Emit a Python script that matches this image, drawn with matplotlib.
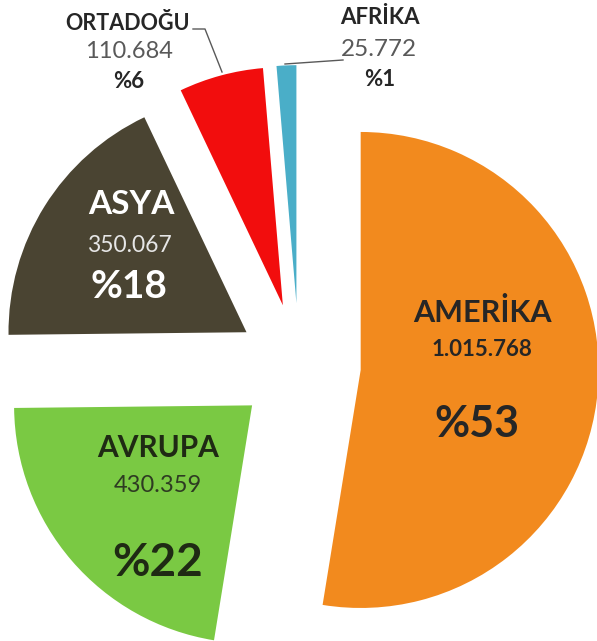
import numpy as np
import matplotlib
matplotlib.use("Agg")
import matplotlib.pyplot as plt

plt.rcParams['font.family'] = ['Lato', 'DejaVu Sans']

# data
regions = ['AMERİKA', 'AVRUPA', 'ASYA', 'ORTADOĞU', 'AFRİKA']
values = [1015768, 430359, 350067, 110684, 25772]
colors = ['#f28a1e', '#7ac943', '#4a4432', '#f20d0d', '#4aaec8']

W, H = 597, 641
CX, CY, R = 299, 365, 238   # pie centre / radius in image pixels


def to_data(px, py):
    """image pixel (from top-left) -> pie data units"""
    return (px - CX) / R, (CY - py) / R


fig = plt.figure(figsize=(W / 100, H / 100), dpi=100)
ax = fig.add_axes([0, 0, 1, 1])
ax.pie(values, colors=colors, startangle=90, counterclock=False,
       explode=[0.26] * len(values), radius=1,
       wedgeprops=dict(linewidth=0))
x0, y1 = to_data(0, 0)
x1, y0 = to_data(W, H)
ax.set_xlim(x0, x1)
ax.set_ylim(y0, y1)
ax.set_aspect('equal')
ax.axis('off')

total = sum(values)
pcts = [f"%{round(v / total * 100)}" for v in values]
nums = [f"{v:,}".replace(",", ".") for v in values]

# label layout: (name pos, name size, num pos, num size, pct pos, pct size, text colour, num colour, num weight)
layout = {
    'AMERİKA': ((482, 312), 22, (482, 350), 16, (477, 424), 31, '#262626', '#262626', 'bold'),
    'AVRUPA': ((158, 448), 21.5, (158, 485), 17, (158, 563), 33, '#1f2a14', '#2e3b22', 'normal'),
    'ASYA': ((131, 204), 24, (129, 246), 16.5, (129, 286), 28, '#ffffff', '#e6e6e6', 'normal'),
    'ORTADOĞU': ((128, 23), 15.5, (129, 52), 17, (129, 81), 16, '#262626', '#595959', 'normal'),
    'AFRİKA': ((380, 18), 16, (379, 50), 17.5, (380, 79), 16, '#262626', '#595959', 'normal'),
}

for name, num, pct in zip(regions, nums, pcts):
    npos, nsz, vpos, vsz, ppos, psz, tc, vc, vw = layout[name]
    ax.text(*to_data(*npos), name, ha='center', va='center', fontsize=nsz,
            fontweight='bold', color=tc)
    ax.text(*to_data(*vpos), num, ha='center', va='center', fontsize=vsz,
            fontweight=vw, color=vc)
    ax.text(*to_data(*ppos), pct, ha='center', va='center', fontsize=psz,
            fontweight='bold', color=tc)

# leader lines
for pts in ([(193, 29), (205, 29), (222, 72)], [(285, 64), (343, 60)]):
    xs, ys = zip(*[to_data(*p) for p in pts])
    ax.plot(xs, ys, color='#595959', lw=1)

fig.savefig('out.png', dpi=100)
